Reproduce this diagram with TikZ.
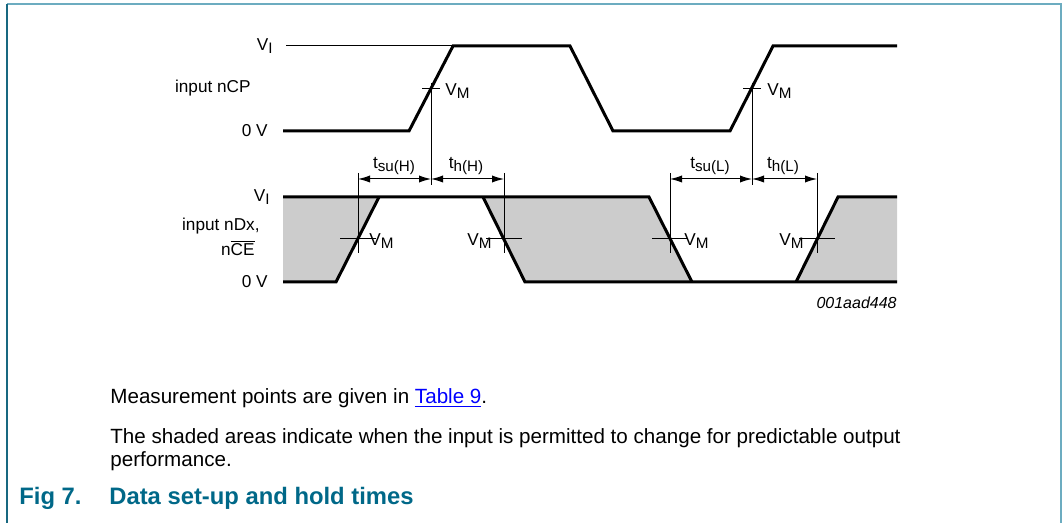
\documentclass[tikz,border=0pt]{standalone}
\usepackage{fontspec}
\setmainfont{Liberation Sans}
\usetikzlibrary{arrows.meta}
\definecolor{capteal}{RGB}{0,104,136}
\definecolor{framelight}{RGB}{108,172,192}
\definecolor{framedark}{RGB}{24,104,128}
\definecolor{shadegray}{RGB}{204,204,204}
\newcommand{\lsub}[1]{\raisebox{-0.22em}{\fontsize{7.6}{9}\selectfont #1}}
\tikzstyle{wave}=[line width=1.5pt, line join=miter]
\tikzstyle{hair}=[line width=0.5pt]
\tikzstyle{lbl}=[font=\fontsize{8.6}{10}\selectfont, inner sep=0pt]
\tikzstyle{body}=[font=\fontsize{10.3}{11.5}\selectfont, inner sep=0pt, align=left]
\tikzstyle{dim}=[line width=0.5pt, {Latex[length=6pt,width=3.6pt]}-{Latex[length=6pt,width=3.6pt]}]

\begin{document}
\begin{tikzpicture}[x=0.5pt,y=-0.5pt]
\useasboundingbox (0,0) rectangle (1063,523);
% frame
\draw[framelight, line width=1pt] (7,4) -- (1061,4) -- (1061,523);
\draw[framedark, line width=1pt] (7,4) -- (7,523);

% input nCP
\node[lbl, anchor=east] (cpvi) at (273,46) {V\lsub{I}};
\node[lbl, anchor=east] (cpname) at (251,88) {input nCP};
\node[lbl, anchor=east] (cpzero) at (268,131) {0 V};
\draw[hair] (286,46) -- (453,46);
\draw[wave] (283,131) -- (409,131) -- (453,46) -- (570,46) -- (613,131)
  -- (730,131) -- (773,46) -- (897,46);
\coordinate (cpm1) at (431,89);
\coordinate (cpm2) at (752,89);
\draw[hair] (422,89) -- (440,89);
\draw[hair] (743,89) -- (761,89);
\node[lbl, anchor=west] (cpvm1) at (445,91) {V\lsub{M}};
\node[lbl, anchor=west] (cpvm2) at (767,91) {V\lsub{M}};

% input nDx, nCE
\fill[shadegray] (283,197) -- (379,197) -- (336,282) -- (283,282) -- cycle;
\fill[shadegray] (483,197) -- (649,197) -- (692,282) -- (525,282) -- cycle;
\fill[shadegray] (838,197) -- (897,197) -- (897,282) -- (796,282) -- cycle;
\draw[wave] (283,197) -- (649,197) -- (692,282);
\draw[wave] (283,282) -- (336,282) -- (379,197);
\draw[wave] (483,197) -- (525,282) -- (897,282);
\draw[wave] (796,282) -- (838,197) -- (897,197);
\node[lbl, anchor=east] (dvi) at (270,197) {V\lsub{I}};
\node[lbl, anchor=east] (dname) at (260,226) {input nDx,};
\node[lbl, anchor=east] (dce) at (255,248) {n$\overline{\mbox{CE}}$};
\node[lbl, anchor=east] (dzero) at (268,282) {0 V};

% measurement ticks
\coordinate (dm1) at (358,239);
\coordinate (dm2) at (504,239);
\coordinate (dm3) at (670,239);
\coordinate (dm4) at (817,239);
\foreach \p in {dm1,dm2,dm3,dm4}{
  \draw[hair] ([xshift=-9]\p) -- ([xshift=9]\p);
  \draw[hair] (\p |- 0,173) -- (\p |- 0,253);
}
\node[lbl, anchor=west] (dvm1) at (369,241) {V\lsub{M}};
\node[lbl, anchor=east] (dvm2) at (492,241) {V\lsub{M}};
\node[lbl, anchor=west] (dvm3) at (684,241) {V\lsub{M}};
\node[lbl, anchor=east] (dvm4) at (804,241) {V\lsub{M}};

% set-up and hold times
\draw[hair] (cpm1) ++(0,-6) -- (cpm1 |- 0,185);
\draw[hair] (cpm2) ++(0,-6) -- (cpm2 |- 0,185);
\coordinate (su1) at (358,179);
\coordinate (mid1) at (431,179);
\coordinate (h1) at (504,179);
\coordinate (su2) at (670,179);
\coordinate (mid2) at (752,179);
\coordinate (h2) at (817,179);
\draw[dim] (su1) -- (mid1);
\draw[dim] (mid1) -- (h1);
\draw[dim] (su2) -- (mid2);
\draw[dim] (mid2) -- (h2);
\node[lbl] (tsuh) at (394,166) {t\lsub{su(H)}};
\node[lbl] (thh) at (466,166) {t\lsub{h(H)}};
\node[lbl] (tsul) at (710,166) {t\lsub{su(L)}};
\node[lbl] (thl) at (783,166) {t\lsub{h(L)}};

\node[lbl, anchor=east, font=\fontsize{8}{10}\selectfont\itshape] (fignum) at (897,303) {001aad448};

% notes and caption
\node[body, anchor=west] (note1) at (110,398) {Measurement points are given in \textcolor{blue}{\underline{Table 9}}.};
\node[body, anchor=north west] (note2) at (110,428) {The shaded areas indicate when the input is permitted to change for predictable output\\performance.};
\node[anchor=west, inner sep=0pt, text=capteal, font=\fontsize{11.9}{14}\selectfont\bfseries] (capnum) at (19,498) {Fig 7.};
\node[anchor=west, inner sep=0pt, text=capteal, font=\fontsize{11.9}{14}\selectfont\bfseries] (captxt) at (109,498) {Data set-up and hold times};
\end{tikzpicture}
\end{document}
